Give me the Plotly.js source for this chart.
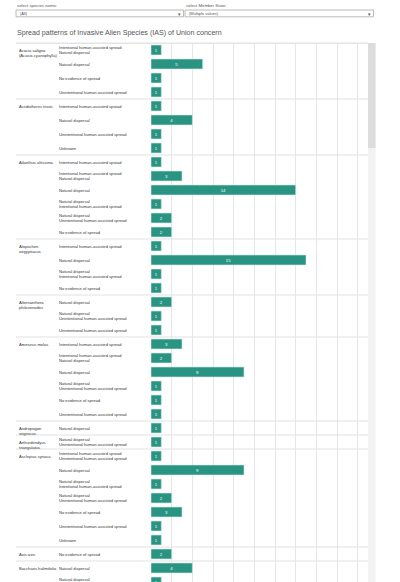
<!DOCTYPE html>
<html>
<head>
<meta charset="utf-8">
<script src="https://cdn.plot.ly/plotly-3.0.1.min.js"></script>
<style>
  html, body { margin: 0; padding: 0; background: #fff; overflow: hidden; }
  #frame { width: 400px; height: 582px; overflow: hidden; position: relative; }
  #chart { width: 400px; height: 600px; }
</style>
</head>
<body>
<div id="frame"><div id="chart"></div></div>
<script>
// Species shown in the list, with how many spread-pattern rows each one has
const species = [
  'Acacia saligna<br>(Acacia cyanophylla)',
  'Acridotheres tristis',
  'Ailanthus altissima',
  'Alopochen<br>aegyptiacus',
  'Alternanthera<br>philoxeroides',
  'Ameiurus melas',
  'Andropogon<br>virginicus',
  'Arthurdendyus<br>triangulatus',
  'Asclepias syriaca',
  'Axis axis',
  'Baccharis halimifolia'
];
const rowsPerSpecies = [4, 4, 6, 4, 3, 6, 1, 1, 7, 1, 2];

// One entry per row: spread pattern and number of records
const spreadPatterns = [
  'Intentional human-assisted spread<br>Natural dispersal', 'Natural dispersal', 'No evidence of spread', 'Unintentional human-assisted spread',
  'Intentional human-assisted spread', 'Natural dispersal', 'Unintentional human-assisted spread', 'Unknown',
  'Intentional human-assisted spread', 'Intentional human-assisted spread<br>Natural dispersal', 'Natural dispersal', 'Natural dispersal<br>Intentional human-assisted spread', 'Natural dispersal<br>Unintentional human-assisted spread', 'No evidence of spread',
  'Intentional human-assisted spread', 'Natural dispersal', 'Natural dispersal<br>Intentional human-assisted spread', 'No evidence of spread',
  'Natural dispersal', 'Natural dispersal<br>Unintentional human-assisted spread', 'Unintentional human-assisted spread',
  'Intentional human-assisted spread', 'Intentional human-assisted spread<br>Natural dispersal', 'Natural dispersal', 'Natural dispersal<br>Unintentional human-assisted spread', 'No evidence of spread', 'Unintentional human-assisted spread',
  'Natural dispersal',
  'Natural dispersal<br>Unintentional human-assisted spread',
  'Intentional human-assisted spread<br>Unintentional human-assisted spread', 'Natural dispersal', 'Natural dispersal<br>Intentional human-assisted spread', 'Natural dispersal<br>Unintentional human-assisted spread', 'No evidence of spread', 'Unintentional human-assisted spread', 'Unknown',
  'No evidence of spread',
  'Natural dispersal', 'Natural dispersal<br>Unintentional human-assisted spread'
];
const counts = [
  1, 5, 1, 1,
  1, 4, 1, 1,
  1, 3, 14, 1, 2, 2,
  1, 15, 1, 1,
  2, 1, 1,
  3, 2, 9, 1, 1, 1,
  1,
  1,
  1, 9, 1, 2, 3, 1, 1,
  2,
  4, 1
];

// Filter controls above the view
const filterLabels = ['select species name:', 'select Member State:'];
const filterValues = ['(All)', '(Multiple values)'];
const titleText = 'Spread patterns of Invasive Alien Species (IAS) of Union concern';

// ---- page geometry (pixels) ----
const W = 400, H = 600;
const M = { l: 151, r: 32, t: 43, b: 11 };
const plotW = W - M.l - M.r, plotH = H - M.t - M.b;
const px = v => (v - M.l) / plotW;          // page x -> paper x
const py = v => (H - M.b - v) / plotH;      // page y -> paper y

const FONT = 'Liberation Sans, Arial, Helvetica, sans-serif';
const LABEL = '#333';
const nRows = counts.length;
const rowIdx = counts.map((_, i) => i);
const rowToPaper = r => (nRows - 0.5 - r) / nRows;

const bars = {
  type: 'bar',
  orientation: 'h',
  x: counts,
  y: rowIdx,
  width: 0.71,
  marker: { color: '#2a9482', line: { color: '#cfe6e1', width: 0.6 } },
  text: counts.map(String),
  textposition: 'inside',
  insidetextanchor: 'middle',
  textangle: 0,
  constraintext: 'none',
  textfont: { family: FONT, size: 4.3, color: '#ffffff' },
  hoverinfo: 'skip'
};

const annotations = [];
const shapes = [];

// spread pattern labels
spreadPatterns.forEach((s, i) => {
  annotations.push({
    xref: 'paper', yref: 'y', x: px(58), y: i,
    xanchor: 'left', yanchor: 'middle', align: 'left',
    text: s, showarrow: false, borderpad: 0,
    font: { family: FONT, size: 4.1, color: LABEL }
  });
});

// species labels and group separators
let start = 0;
species.forEach((sp, g) => {
  annotations.push({
    xref: 'paper', yref: 'y', x: px(18), y: start,
    xanchor: 'left', yanchor: 'top', align: 'left', yshift: 2.8,
    text: sp, showarrow: false, borderpad: 0,
    font: { family: FONT, size: 4.1, color: LABEL }
  });
  if (g > 0) {
    const yb = rowToPaper(start - 0.5);
    shapes.push({ type: 'line', xref: 'paper', yref: 'paper', layer: 'below',
      x0: px(16), x1: px(368), y0: yb, y1: yb,
      line: { color: '#ebebeb', width: 1.5 } });
  }
  start += rowsPerSpecies[g];
});

// header rule at the top of the table
shapes.push({ type: 'line', xref: 'paper', yref: 'paper', layer: 'below',
  x0: px(16), x1: px(368), y0: py(43.3), y1: py(43.3),
  line: { color: '#e4e4e4', width: 1.6 } });

// scroll bar (track + thumb)
shapes.push({ type: 'rect', xref: 'paper', yref: 'paper', layer: 'above',
  x0: px(368), x1: px(375.5), y0: py(600), y1: py(43),
  fillcolor: '#f2f2f2', line: { width: 0 } });
shapes.push({ type: 'rect', xref: 'paper', yref: 'paper', layer: 'above',
  x0: px(368), x1: px(375.5), y0: py(148), y1: py(43),
  fillcolor: '#dcdcdc', line: { width: 0 } });

// filter boxes
const boxes = [[16, 183.5], [185, 373.5]];
boxes.forEach((b, k) => {
  annotations.push({
    xref: 'paper', yref: 'paper', x: px(b[0]), y: py(5),
    xanchor: 'left', yanchor: 'middle', text: filterLabels[k], showarrow: false,
    borderpad: 0, font: { family: FONT, size: 4.3, color: '#555' }
  });
  shapes.push({ type: 'rect', xref: 'paper', yref: 'paper', layer: 'above',
    x0: px(b[0]), x1: px(b[1]), y0: py(16.8), y1: py(10),
    fillcolor: '#ffffff', line: { color: '#a8a8a8', width: 0.8 } });
  annotations.push({
    xref: 'paper', yref: 'paper', x: px(b[0] + 2.5), y: py(13.4),
    xanchor: 'left', yanchor: 'middle', text: filterValues[k], showarrow: false,
    borderpad: 0, font: { family: FONT, size: 4, color: '#555' }
  });
  annotations.push({
    xref: 'paper', yref: 'paper', x: px(b[1] - 4), y: py(13.6),
    xanchor: 'center', yanchor: 'middle', text: '\u25BE', showarrow: false,
    borderpad: 0, font: { family: FONT, size: 5, color: '#555' }
  });
});

// view title
annotations.push({
  xref: 'paper', yref: 'paper', x: px(16), y: py(33.3),
  xanchor: 'left', yanchor: 'middle', text: titleText, showarrow: false,
  borderpad: 0, font: { family: FONT, size: 7.1, color: '#555' }
});

const layout = {
  width: W, height: H,
  margin: M,
  paper_bgcolor: '#ffffff', plot_bgcolor: '#ffffff',
  showlegend: false,
  bargap: 0,
  xaxis: {
    range: [0, 21], dtick: 2, tick0: 0,
    showgrid: true, gridcolor: '#e6e6e6', gridwidth: 1,
    zeroline: false, showline: true, linecolor: '#e6e6e6', linewidth: 1,
    showticklabels: false, ticks: '', fixedrange: true
  },
  yaxis: {
    range: [nRows - 0.5, -0.5],
    showgrid: false, zeroline: false, showline: false,
    showticklabels: false, ticks: '', fixedrange: true
  },
  annotations: annotations,
  shapes: shapes
};

Plotly.newPlot('chart', [bars], layout, { displayModeBar: false, staticPlot: true });
</script>
</body>
</html>
